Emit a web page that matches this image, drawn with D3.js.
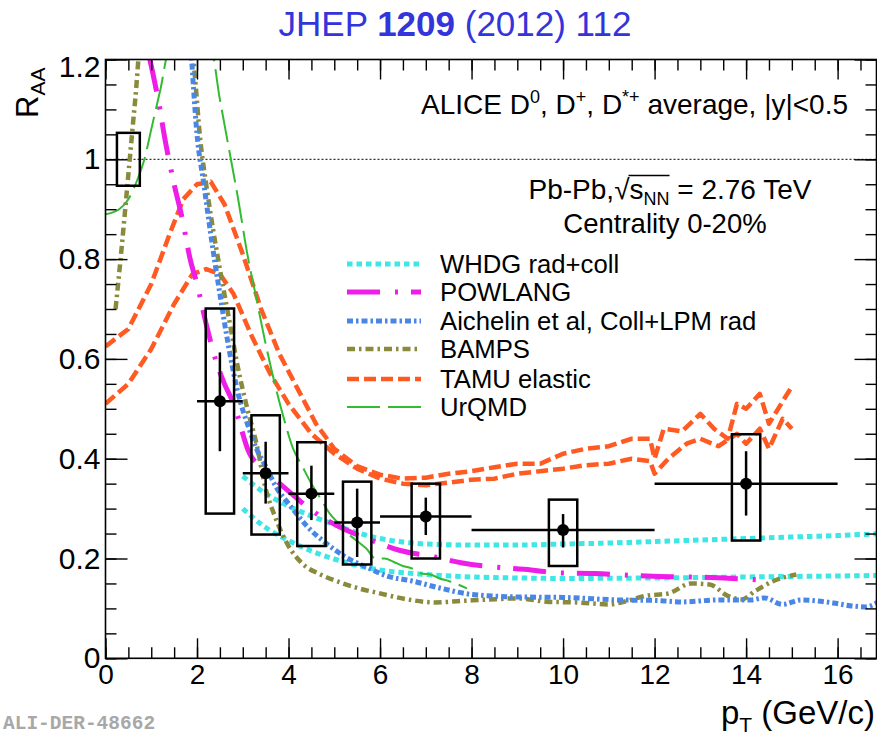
<!DOCTYPE html>
<html>
<head>
<meta charset="utf-8">
<script src="https://cdn.jsdelivr.net/npm/d3@7"></script>
<style>
  html, body { margin: 0; padding: 0; background: #fff; }
  svg { display: block; font-family: "Liberation Sans", Arial, Helvetica, sans-serif; }
</style>
</head>
<body>
<svg id="chart" width="877" height="736"></svg>
<script>
// ---- measured D-meson R_AA (ALICE, 0-20%) ----
const ptCenter  = [2.5, 3.5, 4.5, 5.5, 7, 10, 14];
const ptLow     = [2, 3, 4, 5, 6, 8, 12];
const ptHigh    = [3, 4, 5, 6, 8, 12, 16];
const raa       = [0.515, 0.371, 0.330, 0.272, 0.284, 0.257, 0.350];
const statLow   = [0.415, 0.310, 0.277, 0.203, 0.247, 0.222, 0.286];
const statHigh  = [0.613, 0.434, 0.386, 0.340, 0.322, 0.289, 0.415];
const systLow   = [0.290, 0.248, 0.225, 0.188, 0.200, 0.185, 0.236];
const systHigh  = [0.701, 0.487, 0.433, 0.354, 0.350, 0.318, 0.449];
// normalisation uncertainty around unity
const normPt = [0.25, 0.75];
const normRange = [0.947, 1.053];

// ---- model curves: [pT, R_AA] ----
const whdgUpper = [[3.0,0.365],[3.5,0.33],[4.0,0.305],[4.5,0.285],[5.0,0.268],[5.5,0.252],[6.0,0.240],[6.5,0.233],[7.0,0.229],[8.0,0.227],[9.0,0.227],[10.0,0.229],[11.0,0.231],[12.0,0.234],[13.0,0.237],[14.0,0.240],[15.0,0.243],[16.0,0.246],[17.0,0.250]];
const whdgLower = [[3.0,0.300],[3.5,0.262],[4.0,0.236],[4.5,0.215],[5.0,0.199],[5.5,0.186],[6.0,0.177],[7.0,0.168],[8.0,0.163],[9.0,0.161],[10.0,0.160],[12.0,0.161],[14.0,0.163],[16.0,0.165],[17.0,0.166]];
const powlang = [[0.97,1.20],[1.15,1.12],[1.32,1.03],[1.5,0.95],[1.68,0.88],[1.85,0.80],[2.0,0.75],[2.2,0.67],[2.4,0.60],[2.6,0.55],[2.8,0.51],[3.15,0.41],[3.45,0.38],[3.75,0.355],[4.0,0.335],[4.5,0.297],[5.1,0.264],[5.8,0.237],[6.4,0.217],[7.2,0.203],[7.8,0.191],[8.5,0.183],[9.3,0.177],[9.9,0.171],[10.7,0.170],[11.3,0.167],[12.1,0.164],[12.7,0.163],[13.5,0.161],[14.3,0.157]];
const aichelin = [[1.85,1.25],[2.0,1.05],[2.15,0.95],[2.3,0.85],[2.5,0.73],[2.7,0.62],[2.9,0.53],[3.1,0.47],[3.3,0.42],[3.5,0.385],[3.75,0.34],[4.0,0.31],[4.4,0.265],[4.9,0.225],[5.3,0.200],[5.7,0.183],[6.15,0.165],[6.7,0.155],[7.3,0.141],[8.0,0.128],[9.0,0.123],[10.0,0.122],[11.2,0.117],[12.0,0.116],[12.6,0.113],[13.4,0.117],[14.1,0.117],[14.4,0.121],[14.8,0.108],[15.2,0.117],[15.9,0.111],[16.3,0.105],[16.6,0.103],[17.0,0.120]];
const bamps = [[0.22,0.70],[0.35,0.82],[0.5,0.97],[0.65,1.12],[0.8,1.26],[1.85,1.26],[1.95,1.17],[2.07,1.04],[2.2,0.95],[2.35,0.86],[2.5,0.78],[2.7,0.68],[2.9,0.58],[3.1,0.50],[3.3,0.43],[3.5,0.34],[3.7,0.285],[4.0,0.225],[4.3,0.19],[4.7,0.168],[5.1,0.153],[5.5,0.141],[6.0,0.130],[6.6,0.118],[7.2,0.112],[7.8,0.115],[8.4,0.118],[9.0,0.120],[9.7,0.113],[10.3,0.112],[11.0,0.108],[11.4,0.115],[11.8,0.125],[12.3,0.130],[12.8,0.150],[13.2,0.148],[13.6,0.125],[13.9,0.118],[14.2,0.135],[14.6,0.155],[15.1,0.168]];
const tamuUpper = [[0,0.625],[0.5,0.66],[1.0,0.75],[1.4,0.85],[1.7,0.92],[2.0,0.95],[2.3,0.955],[2.6,0.91],[3.0,0.81],[3.4,0.70],[3.8,0.61],[4.2,0.54],[4.6,0.47],[5.0,0.42],[5.5,0.385],[6.0,0.368],[6.5,0.360],[7.0,0.362],[7.5,0.370],[8.0,0.375],[8.5,0.383],[9.0,0.390],[9.5,0.390],[10.0,0.410],[10.5,0.420],[11.0,0.425],[11.5,0.440],[11.9,0.440],[12.0,0.400],[12.2,0.460],[12.6,0.455],[13.0,0.490],[13.3,0.460],[13.6,0.440],[13.8,0.510],[14.0,0.500],[14.3,0.530],[14.5,0.470],[14.7,0.500],[15.0,0.545]];
const tamuLower = [[0,0.51],[0.5,0.55],[1.0,0.62],[1.5,0.71],[1.9,0.77],[2.2,0.78],[2.5,0.77],[2.8,0.73],[3.2,0.645],[3.6,0.57],[4.0,0.51],[4.5,0.45],[5.0,0.41],[5.5,0.38],[6.0,0.36],[6.5,0.35],[7.0,0.347],[7.5,0.352],[8.0,0.358],[8.5,0.360],[9.0,0.370],[9.5,0.375],[10.0,0.380],[10.5,0.387],[11.0,0.390],[11.5,0.400],[11.9,0.395],[12.0,0.370],[12.3,0.400],[12.7,0.430],[13.0,0.440],[13.4,0.425],[13.8,0.450],[14.0,0.430],[14.3,0.460],[14.5,0.420],[14.8,0.480],[15.0,0.460]];
const urqmd = [[0,0.89],[0.3,0.90],[0.5,0.92],[0.7,0.96],[0.85,1.0],[1.0,1.06],[1.2,1.14],[1.4,1.22],[2.3,1.22],[2.5,1.12],[2.7,1.02],[2.9,0.92],[3.1,0.81],[3.3,0.72],[3.5,0.63],[3.7,0.55],[3.9,0.48],[4.1,0.42],[4.3,0.385],[4.5,0.35],[4.7,0.32],[4.9,0.29],[5.1,0.27],[5.3,0.25],[5.5,0.235],[5.7,0.22],[5.9,0.20],[6.1,0.20],[6.3,0.193],[6.5,0.185],[6.7,0.18],[6.9,0.17],[7.1,0.168],[7.3,0.16],[7.5,0.155],[7.7,0.148],[7.9,0.14]];

// ---- axis ticks ----
const xTickValues = [0, 2, 4, 6, 8, 10, 12, 14, 16];
const xTickLabels = ["0", "2", "4", "6", "8", "10", "12", "14", "16"];
const yTickValues = [0, 0.2, 0.4, 0.6, 0.8, 1.0, 1.2];
const yTickLabels = ["0", "0.2", "0.4", "0.6", "0.8", "1", "1.2"];

// ---- legend ----
const legendNames = ["WHDG rad+coll", "POWLANG", "Aichelin et al, Coll+LPM rad", "BAMPS", "TAMU elastic", "UrQMD"];

// drawing styles for each model (colour, width, dash)
const styles = {
  whdg:     { color: "#3ee6e6", width: 5,   dash: "5.5,4" },
  powlang:  { color: "#ee1ee8", width: 5,   dash: "33,15,3,13" },
  aichelin: { color: "#4a86e6", width: 5,   dash: "6,3,2.5,3" },
  bamps:    { color: "#8a8a3c", width: 4.5, dash: "8,4,2.5,4" },
  tamu:     { color: "#ff5a22", width: 4.5, dash: "12,5" },
  urqmd:    { color: "#33bb33", width: 2,   dash: "33,8" }
};
const legendStyles = [styles.whdg, styles.powlang, styles.aichelin, styles.bamps, styles.tamu, styles.urqmd];

const svg = d3.select("#chart");
const plotLeft = 105.5, plotRight = 876.5, plotTop = 59.5, plotBottom = 658.3;

const x = d3.scaleLinear().domain([0, 16.85]).range([plotLeft, plotRight]);
const y = d3.scaleLinear().domain([0, 1.2]).range([plotBottom, plotTop]);

svg.append("defs").append("clipPath").attr("id", "plotclip")
  .append("rect").attr("x", plotLeft).attr("y", plotTop)
  .attr("width", plotRight - plotLeft).attr("height", plotBottom - plotTop);

// title
svg.append("text")
  .attr("x", 455).attr("y", 36)
  .attr("text-anchor", "middle")
  .attr("fill", "#3434dc")
  .attr("font-size", 35)
  .call(t => {
    t.append("tspan").text("JHEP ");
    t.append("tspan").attr("font-weight", "bold").text("1209");
    t.append("tspan").text(" (2012) 112");
  });

// reference line at unity
svg.append("line")
  .attr("x1", plotLeft).attr("x2", plotRight)
  .attr("y1", y(1)).attr("y2", y(1))
  .attr("stroke", "#000").attr("stroke-width", 1)
  .attr("stroke-dasharray", "2,2");

// model curves
const plot = svg.append("g").attr("clip-path", "url(#plotclip)");
const smooth = d3.line().x(d => x(d[0])).y(d => y(d[1])).curve(d3.curveMonotoneX);
const jagged = d3.line().x(d => x(d[0])).y(d => y(d[1])).curve(d3.curveLinear);

function drawCurve(data, st, gen) {
  plot.append("path")
    .attr("d", (gen || smooth)(data))
    .attr("fill", "none")
    .attr("stroke", st.color)
    .attr("stroke-width", st.width)
    .attr("stroke-dasharray", st.dash)
    .attr("stroke-linejoin", "round");
}
drawCurve(tamuUpper, styles.tamu, jagged);
drawCurve(tamuLower, styles.tamu, jagged);
drawCurve(whdgUpper, styles.whdg);
drawCurve(whdgLower, styles.whdg);
drawCurve(urqmd, styles.urqmd);
drawCurve(bamps, styles.bamps);
drawCurve(aichelin, styles.aichelin);
drawCurve(powlang, styles.powlang);

// data: systematic boxes, statistical bars, bin widths, markers
const boxHalf = 0.31;
const dataG = svg.append("g");
const idx = d3.range(ptCenter.length);

dataG.append("rect")
  .attr("x", x(normPt[0])).attr("y", y(normRange[1]))
  .attr("width", x(normPt[1]) - x(normPt[0]))
  .attr("height", y(normRange[0]) - y(normRange[1]))
  .attr("fill", "none").attr("stroke", "#000").attr("stroke-width", 2.5);

dataG.selectAll("rect.syst").data(idx).join("rect").attr("class", "syst")
  .attr("x", i => x(ptCenter[i] - boxHalf))
  .attr("y", i => y(systHigh[i]))
  .attr("width", i => x(ptCenter[i] + boxHalf) - x(ptCenter[i] - boxHalf))
  .attr("height", i => y(systLow[i]) - y(systHigh[i]))
  .attr("fill", "none").attr("stroke", "#000").attr("stroke-width", 2.5);

dataG.selectAll("line.stat").data(idx).join("line").attr("class", "stat")
  .attr("x1", i => x(ptCenter[i])).attr("x2", i => x(ptCenter[i]))
  .attr("y1", i => y(statLow[i])).attr("y2", i => y(statHigh[i]))
  .attr("stroke", "#000").attr("stroke-width", 2.5);

dataG.selectAll("line.bin").data(idx).join("line").attr("class", "bin")
  .attr("x1", i => x(ptLow[i])).attr("x2", i => x(ptHigh[i]))
  .attr("y1", i => y(raa[i])).attr("y2", i => y(raa[i]))
  .attr("stroke", "#000").attr("stroke-width", 2.5);

dataG.selectAll("circle").data(idx).join("circle")
  .attr("cx", i => x(ptCenter[i])).attr("cy", i => y(raa[i]))
  .attr("r", 6).attr("fill", "#000");

// frame and ticks (ticks on all four sides, pointing inward)
const frame = svg.append("g");
const xMinor = d3.range(0, 16.85, 0.5);
const yMinor = d3.range(0, 1.2001, 0.05);

frame.append("g").attr("transform", `translate(0,${plotBottom})`)
  .call(d3.axisBottom(x).tickValues(xMinor).tickSize(-11).tickFormat(""));
frame.append("g").attr("class", "xax").attr("transform", `translate(0,${plotBottom})`)
  .call(d3.axisBottom(x).tickValues(xTickValues).tickSize(-20).tickPadding(6)
    .tickFormat((d, i) => xTickLabels[i]));
frame.append("g").attr("transform", `translate(0,${plotTop})`)
  .call(d3.axisTop(x).tickValues(xMinor).tickSize(-11).tickFormat(""));
frame.append("g").attr("transform", `translate(0,${plotTop})`)
  .call(d3.axisTop(x).tickValues(xTickValues).tickSize(-20).tickFormat(""));

frame.append("g").attr("transform", `translate(${plotLeft},0)`)
  .call(d3.axisLeft(y).tickValues(yMinor).tickSize(-11).tickFormat(""));
frame.append("g").attr("class", "yax").attr("transform", `translate(${plotLeft},0)`)
  .call(d3.axisLeft(y).tickValues(yTickValues).tickSize(-22).tickPadding(5)
    .tickFormat((d, i) => yTickLabels[i]));
frame.append("g").attr("transform", `translate(${plotRight},0)`)
  .call(d3.axisRight(y).tickValues(yMinor).tickSize(-11).tickFormat(""));
frame.append("g").attr("transform", `translate(${plotRight},0)`)
  .call(d3.axisRight(y).tickValues(yTickValues).tickSize(-22).tickFormat(""));

frame.selectAll(".domain").remove();
frame.selectAll("line").attr("stroke", "#000").attr("stroke-width", 1.4);
frame.selectAll("text")
  .attr("font-family", "'Liberation Sans', Arial, sans-serif")
  .attr("fill", "#000");
frame.select(".xax").selectAll("text").attr("font-size", 28);
frame.select(".yax").selectAll("text").attr("font-size", 30);
// top label sits slightly lower so it stays inside the canvas
frame.select(".yax").selectAll(".tick").filter(d => d === 1.2)
  .select("text").attr("dy", "0.55em");

frame.append("rect")
  .attr("x", plotLeft).attr("y", plotTop)
  .attr("width", plotRight - plotLeft).attr("height", plotBottom - plotTop)
  .attr("fill", "none").attr("stroke", "#000").attr("stroke-width", 1.6);

// axis titles
svg.append("text")
  .attr("transform", "translate(38,118) rotate(-90)")
  .attr("font-size", 31).attr("fill", "#000")
  .call(t => {
    t.append("tspan").text("R");
    t.append("tspan").attr("font-size", 21).attr("dy", 7).text("AA");
  });

svg.append("text")
  .attr("x", 875).attr("y", 724).attr("text-anchor", "end")
  .attr("font-size", 33).attr("fill", "#000")
  .call(t => {
    t.append("tspan").text("p");
    t.append("tspan").attr("font-size", 21).attr("dy", 8).text("T");
    t.append("tspan").attr("dy", -8).text(" (GeV/c)");
  });

// annotations
svg.append("text")
  .attr("x", 848).attr("y", 114).attr("text-anchor", "end")
  .attr("font-size", 28).attr("fill", "#000")
  .call(t => {
    t.append("tspan").text("ALICE D");
    t.append("tspan").attr("font-size", 18).attr("dy", -11).text("0");
    t.append("tspan").attr("dy", 11).text(", D");
    t.append("tspan").attr("font-size", 18).attr("dy", -11).text("+");
    t.append("tspan").attr("dy", 11).text(", D");
    t.append("tspan").attr("font-size", 18).attr("dy", -11).text("*+");
    t.append("tspan").attr("dy", 11).text(" average, |y|<0.5");
  });

const sNN = svg.append("text")
  .attr("x", 670).attr("y", 199).attr("text-anchor", "middle")
  .attr("font-size", 28).attr("fill", "#000");
sNN.append("tspan").text("Pb-Pb,\u221As");
sNN.append("tspan").attr("font-size", 18).attr("dy", 6).text("NN");
sNN.append("tspan").attr("dy", -6).text(" = 2.76 TeV");
// overline of the square root
{
  const node = sNN.node();
  const rootIdx = "Pb-Pb,".length;          // position of the radical sign
  const endIdx = rootIdx + 3;               // last character of "NN"
  const r0 = node.getExtentOfChar(rootIdx);
  const r1 = node.getExtentOfChar(endIdx);
  svg.append("line")
    .attr("x1", r0.x + r0.width - 1).attr("x2", r1.x + r1.width)
    .attr("y1", r0.y + 1.5).attr("y2", r0.y + 1.5)
    .attr("stroke", "#000").attr("stroke-width", 1.3);
}

svg.append("text")
  .attr("x", 665).attr("y", 233).attr("text-anchor", "middle")
  .attr("font-size", 27.5).attr("fill", "#000")
  .text("Centrality 0-20%");

// legend
const legRowY = [264, 292, 321, 349, 379, 407];
const leg = svg.append("g");
legendNames.forEach((name, i) => {
  const st = legendStyles[i];
  leg.append("line")
    .attr("x1", 347).attr("x2", 421)
    .attr("y1", legRowY[i]).attr("y2", legRowY[i])
    .attr("stroke", st.color).attr("stroke-width", st.width)
    .attr("stroke-dasharray", st.dash);
  leg.append("text")
    .attr("x", 440).attr("y", legRowY[i] + 9)
    .attr("font-size", 25.7).attr("fill", "#000")
    .text(name);
});

// figure identifier
svg.append("text")
  .attr("x", 3).attr("y", 729)
  .attr("font-family", "'Liberation Mono', 'DejaVu Sans Mono', monospace")
  .attr("font-weight", "bold")
  .attr("font-size", 19.5).attr("fill", "#a8a8a8")
  .text("ALI-DER-48662");
</script>
</body>
</html>
